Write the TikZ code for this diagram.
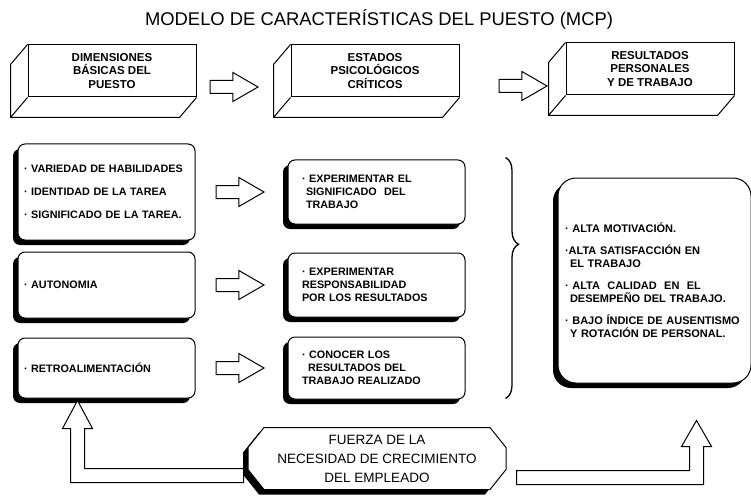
\documentclass[tikz,border=0pt]{standalone}
\usepackage{fontspec}
\setmainfont{Liberation Sans}
\usetikzlibrary{positioning,calc,shapes.arrows,shadows,decorations.pathreplacing}

\begin{document}
\begin{tikzpicture}[x=1pt,y=-1pt,
  bar/.style={draw, line width=1pt, minimum width=168pt, minimum height=52pt, align=center,
    font=\fontsize{11.5}{13.5}\selectfont\bfseries},
  sbox/.style={draw, line width=1pt, fill=white, rounded corners=7pt, align=left, inner xsep=6pt,
    font=\fontsize{10.8}{13}\selectfont\bfseries,
    drop shadow={shadow xshift=-5pt, shadow yshift=-5pt, opacity=1, fill=black}},
  blockarrow/.style={single arrow, draw, line width=1pt, fill=white, inner sep=0pt, inner ysep=6pt,
    minimum height=48pt, single arrow head extend=8pt, single arrow tip angle=60, single arrow head indent=0pt},
  hollow/.style={draw, line width=1pt, fill=white}]
\useasboundingbox (0,0) rectangle (751,497);
% Title
\node[font=\fontsize{18.4}{21}\selectfont] (title) at (379,19) {MODELO DE CARACTERÍSTICAS DEL PUESTO (MCP)};
% Header bars
\node[bar] (dim) at (112,71) {DIMENSIONES\\BÁSICAS DEL\\PUESTO};
\node[bar] (est) at (375,71) {ESTADOS\\PSICOLÓGICOS\\CRÍTICOS};
\node[bar] (res) at (650,69) {RESULTADOS\\PERSONALES\\Y DE TRABAJO};
\foreach \b in {dim,est,res}
  \draw[line width=1pt] (\b.north west) -- ++(-17,20) |- ($(\b.south east)+(-17,20)$) -- (\b.south east)
    (\b.south west) -- ++(-17,20);
\node[blockarrow, anchor=tail] (a1) at ($(dim.east)+(13,16)$) {};
\node[blockarrow, anchor=tail] (a2) at ($(est.east)+(39,15)$) {};
% Job dimensions
\node[sbox, text width=165pt, minimum height=96pt] (habil) at (106.5,192)
  {· VARIEDAD DE HABILIDADES\\[10pt]· IDENTIDAD DE LA TAREA\\[10pt]· SIGNIFICADO DE LA TAREA.};
\node[sbox, text width=165pt, minimum height=66pt] (auton) at (106.5,285) {· AUTONOMIA};
\node[sbox, text width=165pt, minimum height=60pt] (retro) at (106.5,368) {· RETROALIMENTACIÓN};
% Psychological states
\node[sbox, inner xsep=14pt, text width=149pt, minimum height=64pt] (expsig) at (376.5,192)
  {· EXPERIMENTAR EL\\\hspace*{4pt}SIGNIFICADO \ DEL\\\hspace*{4pt}TRABAJO};
\node[sbox, inner xsep=14pt, text width=149pt, minimum height=64pt] (expres) at (376.5,285)
  {· EXPERIMENTAR\\RESPONSABILIDAD\\POR LOS RESULTADOS};
\node[sbox, inner xsep=14pt, text width=149pt, minimum height=62pt] (conoc) at (376.5,368)
  {· CONOCER LOS\\\hspace*{6pt}RESULTADOS DEL\\TRABAJO REALIZADO};
\foreach \a/\b in {habil/r1,auton/r2,retro/r3}
  \node[blockarrow, anchor=tail] (\b) at ($(\a.east)+(20,0)$) {};
% Outcomes
\draw[line width=1.3pt, decorate, decoration={brace, amplitude=13pt, aspect=0.36}]
  ($(expsig.north east)+(40,-2)$) -- ($(conoc.south east)+(40,-1)$);
\node[sbox, rounded corners=18pt, inner xsep=7pt, text width=179pt, minimum height=205pt,
  font=\fontsize{11}{13}\selectfont\bfseries] (result) at (654.5,280.5)
  {· ALTA MOTIVACIÓN.\\[9pt]·ALTA SATISFACCIÓN EN\\\hspace*{5pt}EL TRABAJO\\[9pt]· ALTA \ CALIDAD \ EN \ EL\\\hspace*{5pt}DESEMPEÑO DEL TRABAJO.\\[9pt]· BAJO ÍNDICE DE AUSENTISMO\\\hspace*{5pt}Y ROTACIÓN DE PERSONAL.};
% Growth need arrows
\coordinate (ltip) at ($(retro.south west)+(60,2)$);
\coordinate (rtip) at ($(result.south)+(42,37)$);
\coordinate (fz) at (377,458.5);
\draw[hollow, shift={(ltip)}] (0,0) -- (15,28) -- (7,28) -- (7,68) -- (166,68) -- (166,82)
  -- (-7,82) -- (-7,28) -- (-15,28) -- cycle;
\draw[hollow, shift={(rtip)}] (0,0) -- (15,26) -- (7,26) -- (7,64) -- (-180,64) -- (-180,50)
  -- (-7,50) -- (-7,26) -- (-15,26) -- cycle;
\draw[hollow, drop shadow={shadow xshift=-5pt, shadow yshift=-5pt, opacity=1, fill=black}, shift={(fz)}]
  (-113,-31) -- (113,-31) -- (129,-11) -- (129,11) -- (113,31) -- (-113,31) -- (-129,11) -- (-129,-11) -- cycle;
\node[align=center, font=\fontsize{13.5}{19}\selectfont] (fuerza) at (fz)
  {FUERZA DE LA\\NECESIDAD DE CRECIMIENTO\\DEL EMPLEADO};
\end{tikzpicture}
\end{document}
